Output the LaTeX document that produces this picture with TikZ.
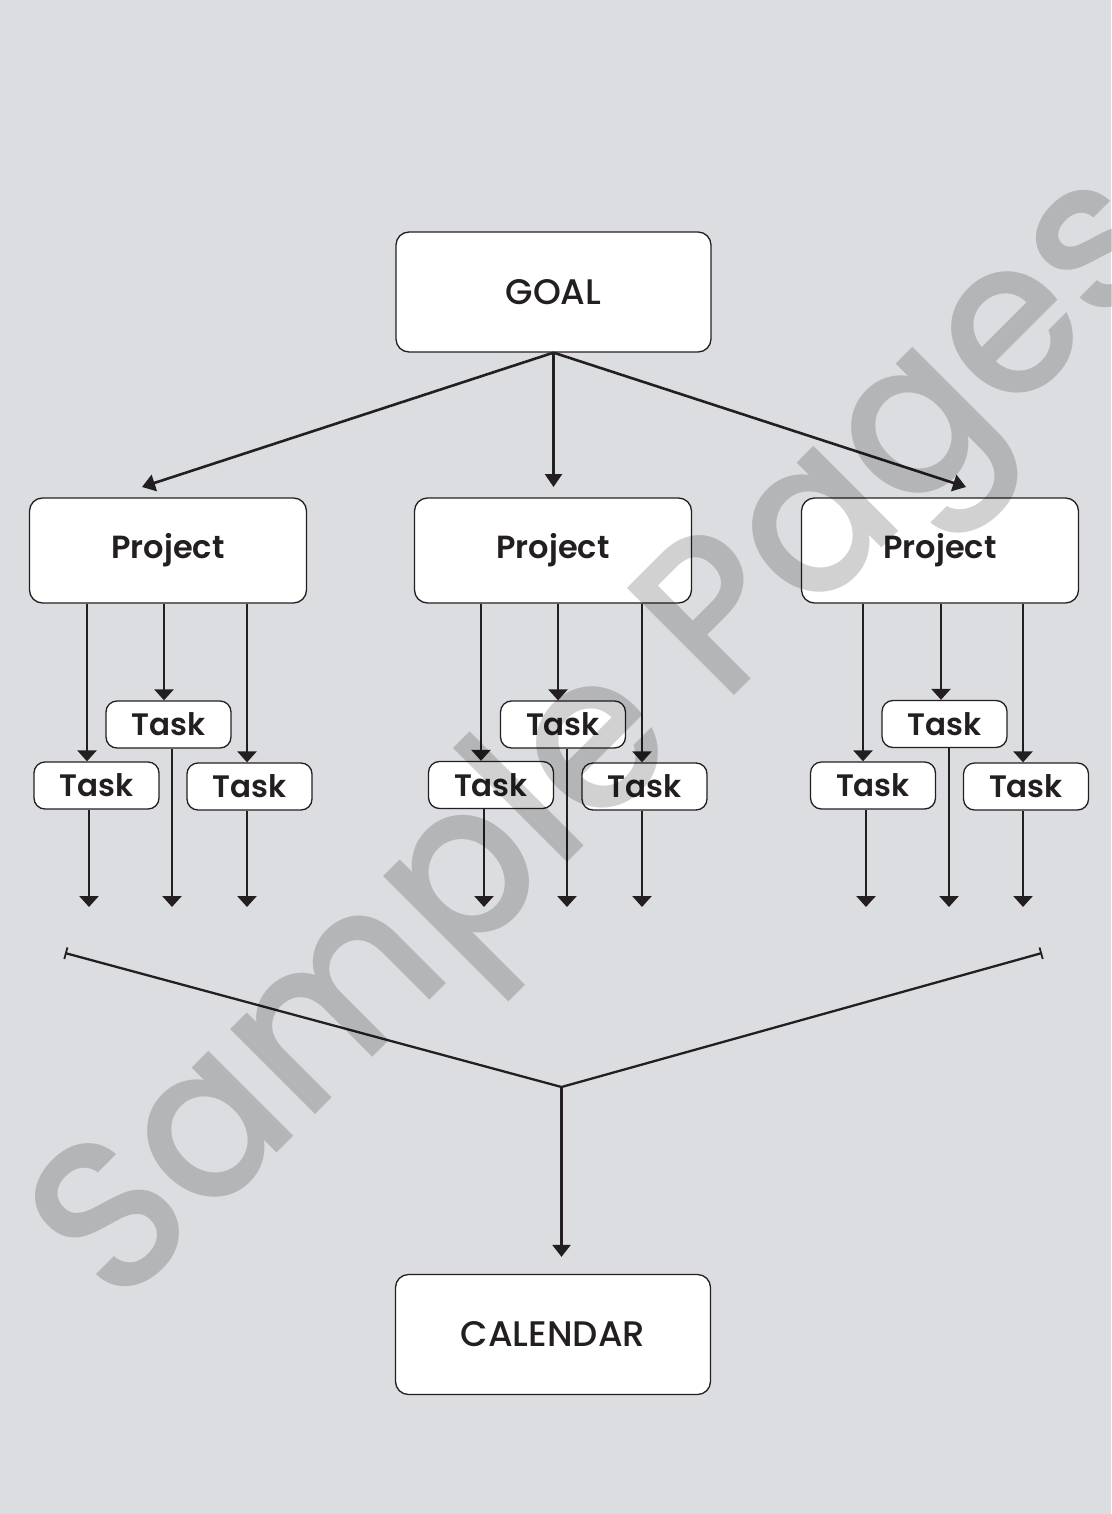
\documentclass[tikz,border=0pt]{standalone}
\usepackage{fontspec}
\setmainfont{Poppins}
\newfontfamily\demifont{Poppins SemiBold}
\newfontfamily\medfont{Poppins Medium}
\usetikzlibrary{arrows.meta}
\definecolor{bgcol}{RGB}{220,221,224}
\definecolor{ink}{RGB}{35,31,32}
\tikzset{
  bigbox/.style={draw=ink, line width=1.3pt, fill=white, rounded corners=13pt,
    minimum width=315pt, minimum height=120pt, inner sep=0pt, text=ink,
    font=\medfont\fontsize{35.5}{35.5}\selectfont},
  projbox/.style={bigbox, minimum width=277pt, minimum height=105pt,
    font=\demifont\fontsize{32}{32}\selectfont},
  taskbox/.style={draw=ink, line width=1.3pt, fill=white, rounded corners=11pt,
    minimum width=125pt, minimum height=47pt, inner sep=0pt, text=ink,
    font=\demifont\fontsize{31}{31}\selectfont},
  tarrow/.style={draw=ink, line width=2.8pt, -{Triangle[width=19pt,length=11pt]}},
  garrow/.style={draw=ink, line width=2.6pt, -{Triangle[width=17pt,length=13pt]}},
  joinline/.style={draw=ink, line width=2.3pt, {Bar[width=12pt,line width=1.8pt]}-{Bar[width=12pt,line width=1.8pt]}},
  wmark/.style={rotate=45, xscale=0.95, anchor=base west, text=black, text opacity=0.18, inner sep=0pt,
    font=\medfont\fontsize{218}{218}\selectfont}
}
\newcommand{\dn}[1]{\raisebox{-5pt}{#1}}
\newcommand{\dnp}[1]{\raisebox{-7pt}{#1}}
\begin{document}
\begin{tikzpicture}[x=1pt,y=-1pt]
\useasboundingbox (0,0) rectangle (1111,1514);
\fill[bgcol] (0,0) rectangle (1111,1514);

% main nodes
\node[bigbox] (goal) at (553.5,292) {\dn{GOAL}};
\node[projbox] (pL) at (168,550.5) {\dnp{Project}};
\node[projbox] (pM) at (553,550.5) {\dnp{Project}};
\node[projbox] (pR) at (940,550.5) {\dnp{Project}};

\node[taskbox] (tLt) at (168.5,724.5) {\dn{Task}};
\node[taskbox] (tLl) at (96.5,785.5) {\dn{Task}};
\node[taskbox] (tLr) at (249.5,786.5) {\dn{Task}};

\node[taskbox] (tMt) at (563,724.5) {\dn{Task}};
\node[taskbox] (tMl) at (491,785) {\dn{Task}};
\node[taskbox] (tMr) at (644.5,786.5) {\dn{Task}};

\node[taskbox] (tRt) at (944.5,724) {\dn{Task}};
\node[taskbox] (tRl) at (873,785.5) {\dn{Task}};
\node[taskbox] (tRr) at (1026,786.5) {\dn{Task}};

\node[bigbox] (cal) at (553,1334.5) {\dn{CALENDAR}};

% goal to projects
\coordinate (gL) at (142,487);
\coordinate (gM) at (553.5,487);
\coordinate (gR) at (966,487);
\draw[garrow] (goal.south) -- (gL);
\draw[garrow] (goal.south) -- (gM);
\draw[garrow] (goal.south) -- (gR);

% projects to tasks
\draw[tarrow] (87,0 |- pL.south) -- (87,0 |- tLl.north);
\draw[tarrow] (164,0 |- pL.south) -- (164,0 |- tLt.north);
\draw[tarrow] (247,0 |- pL.south) -- (247,0 |- tLr.north);

\draw[tarrow] (481,0 |- pM.south) -- (481,0 |- tMl.north);
\draw[tarrow] (558,0 |- pM.south) -- (558,0 |- tMt.north);
\draw[tarrow] (642,0 |- pM.south) -- (642,0 |- tMr.north);

\draw[tarrow] (863,0 |- pR.south) -- (863,0 |- tRl.north);
\draw[tarrow] (941,0 |- pR.south) -- (941,0 |- tRt.north);
\draw[tarrow] (1023,0 |- pR.south) -- (1023,0 |- tRr.north);

% tasks downward
\coordinate (eL1) at (89,907);
\coordinate (eL2) at (172,907);
\coordinate (eL3) at (247,907);
\coordinate (eM1) at (484,907);
\coordinate (eM2) at (567,907);
\coordinate (eM3) at (642,907);
\coordinate (eR1) at (866,907);
\coordinate (eR2) at (949,907);
\coordinate (eR3) at (1023,907);
\draw[tarrow] (eL1 |- tLl.south) -- (eL1);
\draw[tarrow] (eL2 |- tLt.south) -- (eL2);
\draw[tarrow] (eL3 |- tLr.south) -- (eL3);
\draw[tarrow] (eM1 |- tMl.south) -- (eM1);
\draw[tarrow] (eM2 |- tMt.south) -- (eM2);
\draw[tarrow] (eM3 |- tMr.south) -- (eM3);
\draw[tarrow] (eR1 |- tRl.south) -- (eR1);
\draw[tarrow] (eR2 |- tRt.south) -- (eR2);
\draw[tarrow] (eR3 |- tRr.south) -- (eR3);

% converging lines
\coordinate (cL) at (65,953);
\coordinate (cR) at (1042,953);
\coordinate (jn) at (561.5,1087);
\draw[joinline] (cL) -- (jn) -- (cR);
\draw[tarrow, line width=2.5pt, -{Triangle[width=18pt,length=12pt]}, shorten >=17pt] (jn) -- (561.5,0 |- cal.north);

% watermark
\node[wmark] (wm) at (117,1313) {Sample Pages};
\end{tikzpicture}
\end{document}
